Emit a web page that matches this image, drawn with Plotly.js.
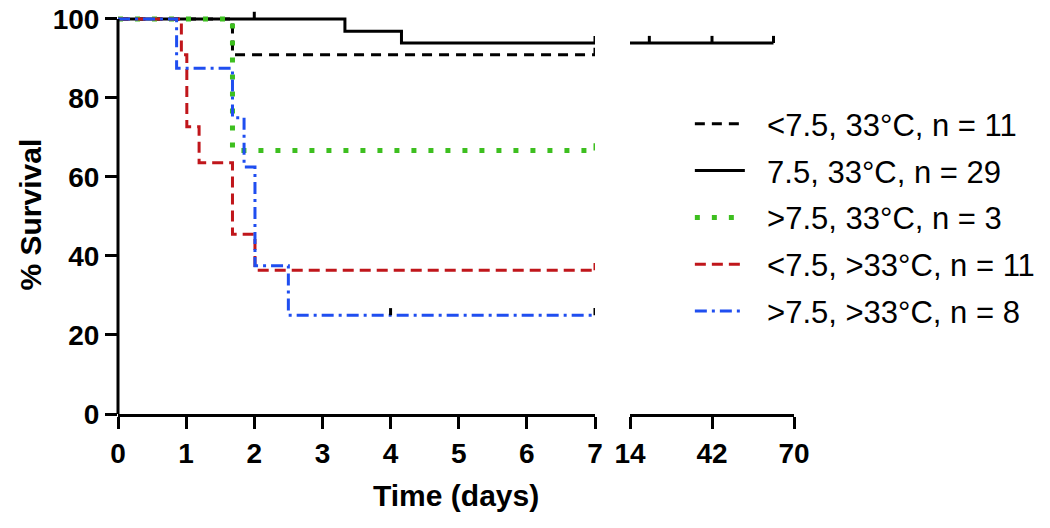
<!DOCTYPE html>
<html>
<head>
<meta charset="utf-8">
<script src="https://cdn.plot.ly/plotly-3.0.1.min.js"></script>
<style>
  html, body { margin: 0; padding: 0; background: #fff; }
  #chart { width: 1050px; height: 528px; }
</style>
</head>
<body>
<div id="chart"></div>
<script>
// Kaplan-Meier curves, broken time axis (0-7 days, then 14-70)
var names = ['<7.5, 33°C, n = 11', '7.5, 33°C, n = 29', '>7.5, 33°C, n = 3',
             '<7.5, >33°C, n = 11', '>7.5, >33°C, n = 8'];

// event times (days) and % survival after each step
var lowT = [0, 1.68, 7];
var lowS = [100, 90.9, 90.9];
var lowCens = [7];

var midT = [0, 3.33, 4.16, 63];
var midS = [100, 96.9, 93.9, 93.9];
var midCens = [2.0, 7, 20.6, 42, 63];

var highT = [0, 1.68, 7];
var highS = [100, 66.7, 66.7];
var highCens = [7];

var lowHotT = [0, 0.93, 1.01, 1.19, 1.68, 2.01, 7];
var lowHotS = [100, 90.9, 72.7, 63.6, 45.5, 36.4, 36.4];
var lowHotCens = [7];

var highHotT = [0, 0.86, 1.68, 1.85, 2.01, 2.5, 7];
var highHotS = [100, 87.5, 75, 62.5, 37.5, 25, 25];
var highHotCens = [4.0, 7];

var xTicks1 = [0, 1, 2, 3, 4, 5, 6, 7];
var xTicks2 = [14, 42, 70];
var yTicks = [0, 20, 40, 60, 80, 100];

var series = [
  {t: lowT, s: lowS, c: lowCens, color: '#000000', tick: '#000000', dash: '10px,7px', w: 3},
  {t: midT, s: midS, c: midCens, color: '#000000', tick: '#000000', dash: 'solid', w: 3},
  {t: highT, s: highS, c: highCens, color: '#3dbf1f', tick: '#3dbf1f', dash: '5px,12px', w: 5},
  {t: lowHotT, s: lowHotS, c: lowHotCens, color: '#c0161b', tick: '#c0161b', dash: '11px,6px', w: 3},
  {t: highHotT, s: highHotS, c: highHotCens, color: '#1f4ef0', tick: '#000000', dash: '12px,5px,3px,5px', w: 3}
];

function survAt(t, s, x) {
  var v = s[0];
  for (var i = 0; i < t.length; i++) { if (t[i] <= x) v = s[i]; }
  return v;
}

var data = [];
series.forEach(function(d, k) {
  ['x', 'x2'].forEach(function(ax) {
    data.push({
      type: 'scatter', mode: 'lines', x: d.t, y: d.s, xaxis: ax, yaxis: 'y',
      name: '\u00a0\u00a0' + names[k], legendgroup: 'g' + k, showlegend: ax === 'x',
      line: {shape: 'hv', color: d.color, width: d.w, dash: d.dash}
    });
    var cx = [], cy = [];
    d.c.forEach(function(ct) {
      var v = survAt(d.t, d.s, ct);
      cx.push(ct, ct, null);
      cy.push(v, v + 1.8, null);
    });
    data.push({
      type: 'scatter', mode: 'lines', x: cx, y: cy, xaxis: ax, yaxis: 'y',
      legendgroup: 'g' + k, showlegend: false, hoverinfo: 'skip',
      line: {color: d.tick, width: 3}
    });
  });
});

var tickFont = {family: 'Liberation Sans, Arial, sans-serif', size: 28, color: '#000', weight: 'bold'};
var d1 = (595 - 118) / 676, d2 = (630 - 118) / 676;

var layout = {
  width: 1050, height: 528,
  margin: {l: 118, r: 256, t: 11, b: 114, autoexpand: false},
  paper_bgcolor: '#fff', plot_bgcolor: '#fff',
  showlegend: true,
  legend: {
    xref: 'container', yref: 'container', x: 0.657, y: 0.816, xanchor: 'left', yanchor: 'top',
    font: {family: 'Liberation Sans, Arial, sans-serif', size: 31, color: '#000'},
    traceorder: 'grouped', tracegroupgap: 3.5, itemwidth: 50, bgcolor: 'rgba(0,0,0,0)'
  },
  xaxis: {
    domain: [0, d1], range: [0, 7], tickvals: xTicks1, ticktext: xTicks1.map(String),
    showgrid: false, zeroline: false, showline: true, linecolor: '#000', linewidth: 3,
    ticks: 'outside', ticklen: 12, tickwidth: 3, tickcolor: '#000', tickfont: tickFont
  },
  xaxis2: {
    domain: [d2, 1], range: [14, 70], tickvals: xTicks2, ticktext: xTicks2.map(String),
    showgrid: false, zeroline: false, showline: true, linecolor: '#000', linewidth: 3,
    ticks: 'outside', ticklen: 12, tickwidth: 3, tickcolor: '#000', tickfont: tickFont
  },
  yaxis: {
    range: [0, 102], tickvals: yTicks, ticktext: yTicks.map(String),
    showgrid: false, zeroline: false, showline: false,
    ticks: 'outside', ticklen: 12, tickwidth: 3, tickcolor: '#000', tickfont: tickFont
  },
  shapes: [
    {type: 'line', xref: 'paper', yref: 'y', x0: 0, x1: 0, y0: 0, y1: 100,
     line: {color: '#000', width: 3}}
  ],
  annotations: [
    {text: 'Time (days)', xref: 'paper', yref: 'paper', x: 0.5, y: 0, yshift: -81,
     xanchor: 'center', yanchor: 'middle', showarrow: false,
     font: {family: 'Liberation Sans, Arial, sans-serif', size: 30, color: '#000', weight: 'bold'}},
    {text: '% Survival', xref: 'paper', yref: 'paper', x: 0, xshift: -88, y: 0.5, yshift: -2,
     textangle: -90, xanchor: 'center', yanchor: 'middle', showarrow: false,
     font: {family: 'Liberation Sans, Arial, sans-serif', size: 30, color: '#000', weight: 'bold'}}
  ]
};

Plotly.newPlot('chart', data, layout, {displayModeBar: false, staticPlot: true});
</script>
</body>
</html>
